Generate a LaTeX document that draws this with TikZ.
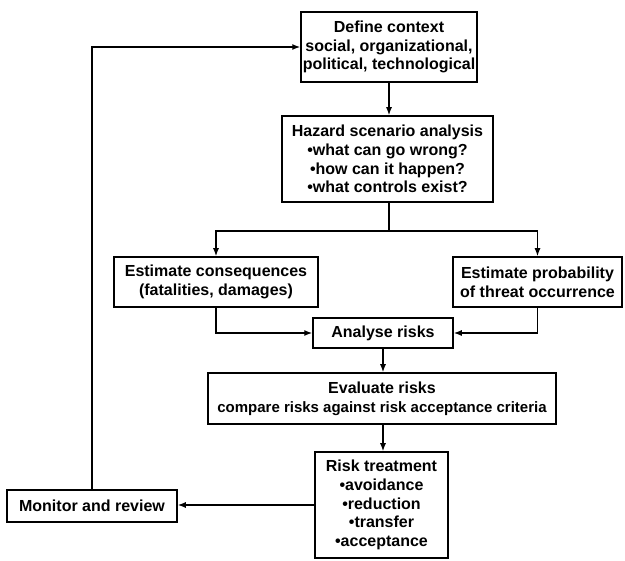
\documentclass[tikz,border=0pt]{standalone}
\usepackage{fontspec}
\setmainfont{Liberation Sans}
\usetikzlibrary{arrows.meta}
\tikzset{
  box/.style={draw, line width=1.5pt, align=center, inner sep=0pt,
    font=\bfseries\fontsize{16}{18.8}\selectfont},
  arr/.style={-{Latex[length=8pt,width=6pt]}, line width=1.4pt},
  ln/.style={line width=1.4pt}
}
\begin{document}
\begin{tikzpicture}[x=1pt,y=-1pt]
\useasboundingbox (0,0) rectangle (625,561);
\node[box, minimum width=176pt, minimum height=70pt] (ctx) at (389,47)
  {Define context\\social, organizational,\\political, technological};
\node[box, minimum width=211pt, minimum height=86pt] (haz) at (387.5,159)
  {Hazard scenario analysis\\•what can go wrong?\\•how can it happen?\\•what controls exist?};
\node[box, minimum width=204pt, minimum height=50pt] (cons) at (216,282)
  {Estimate consequences\\(fatalities, damages)};
\node[box, minimum width=169pt, minimum height=50pt] (prob) at (537.5,282)
  {Estimate probability\\of threat occurrence};
\node[box, minimum width=140pt, minimum height=30pt] (anal) at (383,333)
  {Analyse risks};
\node[box, minimum width=348pt, minimum height=51pt] (eval) at (382,398.5)
  {Evaluate risks\\{\fontsize{15}{18.8}\selectfont compare risks against risk acceptance criteria}};
\node[box, minimum width=133pt, minimum height=106pt] (treat) at (381.5,505)
  {Risk treatment\\•avoidance\\•reduction\\•transfer\\•acceptance};
\node[box, minimum width=170pt, minimum height=32pt] (mon) at (92,506)
  {Monitor and review};
\coordinate (split) at (389,231);
\draw[arr] (ctx.south) -- (ctx.south |- haz.north);
\draw[ln] (haz.south -| split) -- (split);
\draw[arr] (split) -| (cons.north);
\draw[arr] (split) -| (prob.north);
\draw[arr] (cons.south) |- (anal.west);
\draw[arr] (prob.south) |- (anal.east);
\draw[arr] (anal.south) -- (eval.north -| anal.south);
\draw[arr] (eval.south -| anal.south) -- (treat.north -| anal.south);
\draw[arr] (treat.west) -- (treat.west -| mon.east);
\draw[arr] (mon.north) |- (ctx.west);
\end{tikzpicture}
\end{document}
